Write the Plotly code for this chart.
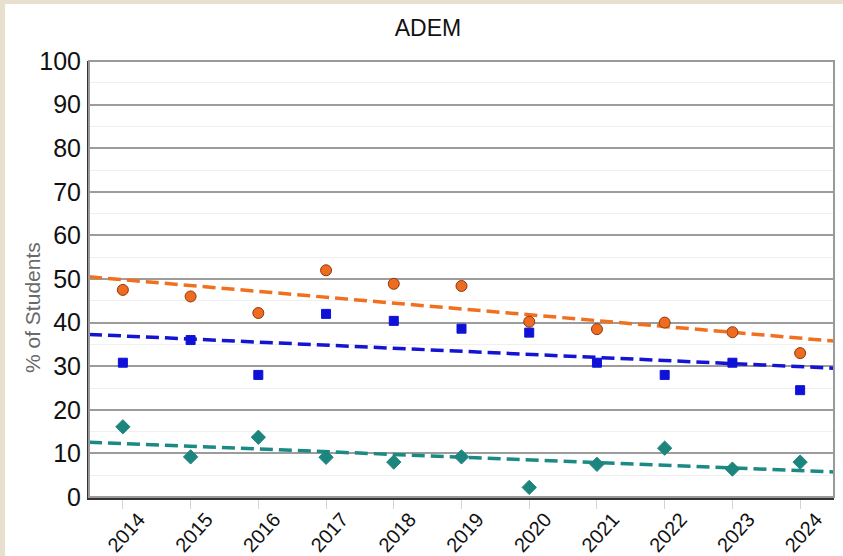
import numpy as np
import plotly.graph_objects as go

years = [2014, 2015, 2016, 2017, 2018, 2019, 2020, 2021, 2022, 2023, 2024]
year_labels = [str(y) for y in years]
orange_vals = [47.5, 46.0, 42.2, 52.0, 48.9, 48.4, 40.2, 38.5, 40.0, 37.8, 33.0]
blue_vals = [30.8, 36.0, 28.0, 42.0, 40.4, 38.6, 37.7, 30.8, 28.0, 30.8, 24.5]
teal_vals = [16.1, 9.2, 13.7, 9.1, 8.0, 9.2, 2.2, 7.5, 11.2, 6.4, 8.0]
y_ticks = [0, 10, 20, 30, 40, 50, 60, 70, 80, 90, 100]

W, H = 843, 556
ML, MR, MT, MB = 89, 9, 61, 59
PW, PH = W - ML - MR, H - MT - MB
X_RANGE = [2013.5, 2024.5]

FONT = "Liberation Sans, Arial, sans-serif"
BEIGE = "#e7e0cf"

series = [
    ("orange", orange_vals, "circle", 11, "#ef6b1f", "#8a3a10", "#f07020"),
    ("blue", blue_vals, "square", 9, "#0f12d6", "#0f12d6", "#1414d2"),
    ("teal", teal_vals, "diamond", 11, "#1c857e", "#1c857e", "#1b8a84"),
]

fig = go.Figure()
for name, vals, sym, size, fill, edge, lcol in series:
    slope, icpt = np.polyfit(years, vals, 1)
    tx = np.array(X_RANGE)
    fig.add_trace(go.Scatter(
        x=tx, y=slope * tx + icpt, mode="lines",
        line=dict(color=lcol, width=3.5, dash="13px,6px"),
        showlegend=False, hoverinfo="skip"))
for name, vals, sym, size, fill, edge, lcol in series:
    fig.add_trace(go.Scatter(
        x=years, y=vals, mode="markers", name=name,
        marker=dict(symbol=sym, size=size, color=fill,
                    line=dict(color=edge, width=1)),
        showlegend=False))

def px_x(p):
    return (p - ML) / PW

def px_y(p):
    return (H - MB - p) / PH

shapes = [
    # white panel on beige background
    dict(type="rect", xref="paper", yref="paper", layer="below",
         x0=px_x(5), x1=px_x(W + 5), y0=px_y(H + 5), y1=px_y(4),
         fillcolor="white", line=dict(width=0)),
    # gray frame of the plot area
    dict(type="rect", xref="paper", yref="paper", layer="above",
         x0=0, x1=1, y0=0, y1=1,
         fillcolor="rgba(0,0,0,0)", line=dict(color="#9a9a9a", width=2)),
]

fig.update_layout(
    width=W, height=H,
    margin=dict(l=ML, r=MR, t=MT, b=MB, pad=0, autoexpand=False),
    paper_bgcolor=BEIGE,
    plot_bgcolor="white",
    shapes=shapes,
    title=dict(text="ADEM", x=428 / W, xref="container", xanchor="center",
               y=1 - 28 / H, yref="container", yanchor="middle",
               font=dict(family=FONT, size=23, color="#111")),
    font=dict(family=FONT, color="#111"),
    annotations=[dict(
        text="% of Students", textangle=-90, showarrow=False,
        xref="paper", yref="paper", x=px_x(32), y=px_y(308),
        xanchor="center", yanchor="middle",
        font=dict(size=21, family=FONT, color="#6a6a6a"))],
)
fig.update_xaxes(
    range=X_RANGE, tickvals=years, ticktext=year_labels, tickangle=-48,
    tickfont=dict(size=20, family=FONT, color="#111"),
    showgrid=False, zeroline=False, automargin=False,
    ticks="", ticklabelshift=16, ticklabelstandoff=0,
    minor=dict(tickvals=years, ticks="outside", ticklen=9,
               tickcolor="#d4d4d4", tickwidth=1, showgrid=False),
    showline=True, linecolor="#333", linewidth=2.5,
)
fig.update_yaxes(
    range=[0, 100], tickvals=y_ticks, automargin=False,
    tickfont=dict(size=25, family=FONT, color="#111"),
    showgrid=True, gridcolor="#9c9c9c", gridwidth=1.5,
    minor=dict(dtick=5, showgrid=True, gridcolor="#efefef", gridwidth=1),
    zeroline=False, ticks="", ticklabelstandoff=1,
    showline=True, linecolor="#333", linewidth=2,
)

fig.write_html(
    "out.html",
    config={"displayModeBar": False},
    post_script="document.body.style.margin='0';document.body.style.background='" + BEIGE + "';",
)
